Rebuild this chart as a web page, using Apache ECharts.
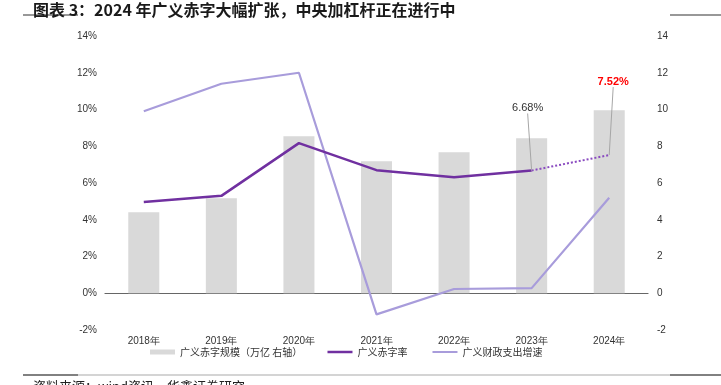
<!DOCTYPE html>
<html><head><meta charset="utf-8">
<script src="https://cdn.jsdelivr.net/npm/echarts@6/dist/echarts.min.js"></script>
<style>html,body{margin:0;padding:0;background:#fff}#c{width:721px;height:385px}</style>
</head><body><div id="c"></div>
<script>
var categories = ['2018年','2019年','2020年','2021年','2022年','2023年','2024年'];
var deficitScale = [4.41, 5.17, 8.54, 7.18, 7.67, 8.44, 9.96];
var deficitRate = [4.97, 5.3, 8.17, 6.7, 6.31, 6.68, null];
var deficitRateForecast = [null, null, null, null, null, 6.68, 7.52];
var spendGrowth = [9.9, 11.4, 12.0, -1.15, 0.23, 0.28, 5.2];
var leftTicks = {min: -2, max: 14, interval: 2};
var names = ['广义赤字规模（万亿 右轴）', '广义赤字率', '广义财政支出增速'];

var chart = echarts.init(document.getElementById('c'), null, {renderer: 'canvas'});
var font = 'Liberation Sans, Arial, sans-serif';
var cjk = '"Noto Sans CJK SC", sans-serif';
var forecastData = deficitRateForecast.map(function (v, i) {
  return i === 6 ? {value: v, label: {color: '#FF0000', fontWeight: 'bold'}} : v;
});
chart.setOption({
  animation: false,
  grid: {left: 105, right: 73, top: 36, bottom: 55},
  title: {text: '图表 3：2024 年广义赤字大幅扩张，中央加杠杆正在进行中', left: 28, top: -3,
    textStyle: {fontFamily: cjk, fontSize: 16, fontWeight: 'bold', color: '#1a1a1a'}},
  legend: {bottom: 23, left: 145, itemGap: 24, itemWidth: 25, itemHeight: 5,
    textStyle: {fontFamily: cjk, fontSize: 10, color: '#333'},
    data: [
      {name: names[0], icon: 'rect'},
      {name: names[1], itemStyle: {opacity: 0}, lineStyle: {width: 2.5}},
      {name: names[2], itemStyle: {opacity: 0}, lineStyle: {width: 2}}
    ]},
  xAxis: [
    {type: 'category', data: categories, position: 'bottom',
     axisLine: {show: false, onZero: false}, axisTick: {show: false},
     axisLabel: {margin: 6, fontFamily: font, fontSize: 10, color: '#333'}},
    {type: 'category', data: categories, position: 'bottom',
     axisLine: {onZero: true, onZeroAxisIndex: 0, lineStyle: {color: '#666', width: 1.2}},
     axisTick: {inside: true, length: 3, lineStyle: {color: '#666'}},
     axisLabel: {show: false}}
  ],
  yAxis: [
    {type: 'value', min: leftTicks.min, max: leftTicks.max, interval: leftTicks.interval,
     splitLine: {show: false}, axisLine: {show: false}, axisTick: {show: false},
     axisLabel: {formatter: '{value}%', margin: 8, fontFamily: font, fontSize: 10, color: '#333'}},
    {type: 'value', min: leftTicks.min, max: leftTicks.max, interval: leftTicks.interval,
     splitLine: {show: false}, axisLine: {show: false}, axisTick: {show: false},
     axisLabel: {margin: 9, fontFamily: font, fontSize: 10, color: '#333'}}
  ],
  series: [
    {name: names[0], type: 'bar', yAxisIndex: 1, data: deficitScale, barWidth: '40%',
     itemStyle: {color: '#D9D9D9'}},
    {name: names[1], type: 'line', data: deficitRate, symbol: 'none', z: 5,
     lineStyle: {color: '#7030A0', width: 2.5}, itemStyle: {color: '#7030A0'}},
    {name: names[1] + '预测', type: 'line', data: forecastData, symbol: 'circle', symbolSize: 0.1, z: 5,
     lineStyle: {color: '#8A4BC0', width: 2, type: 'dotted'}, itemStyle: {color: '#8A4BC0'},
     label: {show: true, position: 'top', fontFamily: font, fontSize: 11,
       formatter: function (p) { return p.value == null ? '' : p.value.toFixed(2) + '%'; },
       color: '#333'},
     labelLayout: function (p) {
       if (p.dataIndex === 5) return {dx: -4, dy: -52};
       if (p.dataIndex === 6) return {dx: 4, dy: -63};
       return {};
     },
     labelLine: {show: true, lineStyle: {color: '#a6a6a6', width: 1}},
     emphasis: {disabled: true}},
    {name: names[2], type: 'line', data: spendGrowth, symbol: 'none', z: 4,
     lineStyle: {color: '#A89CDB', width: 2.2}, itemStyle: {color: '#A89CDB'}}
  ],
  graphic: [
    {type: 'line', shape: {x1: 23, y1: 15, x2: 78, y2: 15}, style: {stroke: '#333', lineWidth: 1.2}},
    {type: 'line', shape: {x1: 670, y1: 15, x2: 721, y2: 15}, style: {stroke: '#333', lineWidth: 1.2}},
    {type: 'line', shape: {x1: 23, y1: 375, x2: 721, y2: 375}, style: {stroke: '#aaa', lineWidth: 1.2}},
    {type: 'line', shape: {x1: 23, y1: 375, x2: 78, y2: 375}, style: {stroke: '#666', lineWidth: 1.5}},
    {type: 'line', shape: {x1: 670, y1: 375, x2: 721, y2: 375}, style: {stroke: '#666', lineWidth: 1.5}},
    {type: 'text', left: 33, top: 380, style: {text: '资料来源：wind资讯，华鑫证券研究', font: '13px "Noto Sans CJK SC"', fill: '#222'}}
  ]
});
</script></body></html>
